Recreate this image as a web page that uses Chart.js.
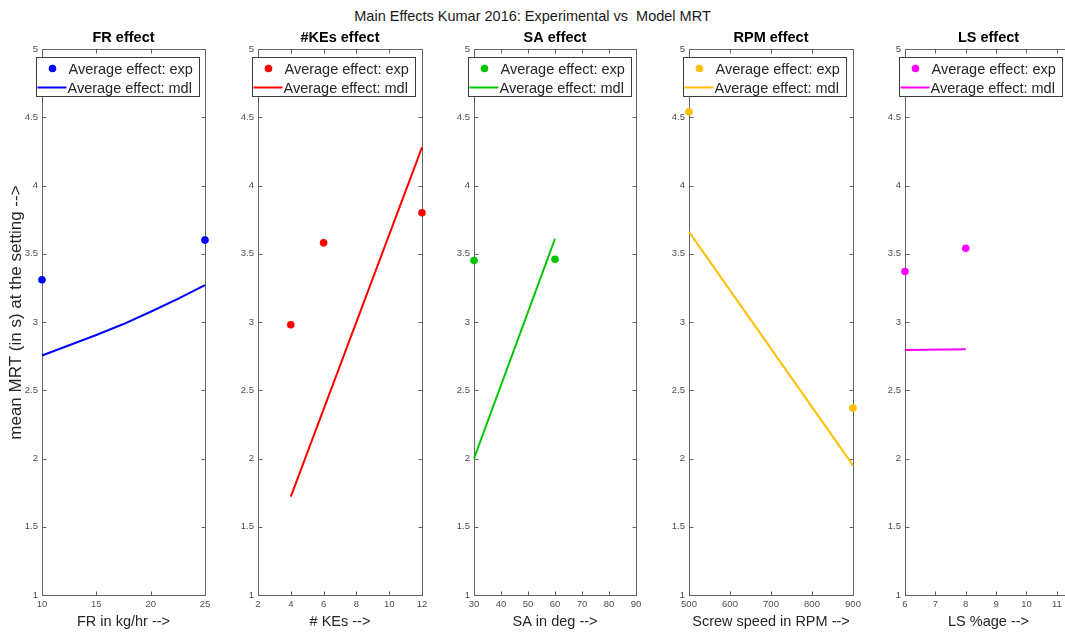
<!DOCTYPE html>
<html>
<head>
<meta charset="utf-8">
<script src="https://cdn.jsdelivr.net/npm/chart.js@4.4.1/dist/chart.umd.min.js"></script>
<style>
  html, body { margin: 0; padding: 0; background: #fff; overflow: hidden; }
  body { width: 1065px; height: 633px; position: relative; font-family: 'Liberation Sans', Arial, sans-serif; }
  #titulo { position: absolute; left: 0; top: 7px; width: 1065px; text-align: center; font-size: 14.5px; line-height: 18px; color: #1a1a1a; white-space: pre; }
  canvas { position: absolute; top: 0; }
</style>
</head>
<body>
<div id="titulo">Main Effects Kumar 2016: Experimental vs  Model MRT</div>
<canvas id="c0"></canvas>
<canvas id="c1"></canvas>
<canvas id="c2"></canvas>
<canvas id="c3"></canvas>
<canvas id="c4"></canvas>
<script>
// Promedios por nivel de cada factor (experimental) y curva del modelo
const frLevels = [10, 25];
const frExp = [3.31, 3.60];
const frModelX = [10, 12.5, 15, 17.5, 20, 22.5, 25];
const frModel = [2.755, 2.83, 2.905, 2.985, 3.075, 3.17, 3.27];

const keLevels = [4, 6, 12];
const keExp = [2.98, 3.58, 3.80];
const keModelX = [4, 12];
const keModel = [1.72, 4.28];

const saLevels = [30, 60];
const saExp = [3.45, 3.46];
const saModelX = [30, 60];
const saModel = [2.00, 3.61];

const rpmLevels = [500, 900];
const rpmExp = [4.54, 2.37];
const rpmModelX = [500, 900];
const rpmModel = [3.66, 1.95];

const lsLevels = [6, 8];
const lsExp = [3.37, 3.54];
const lsModelX = [6, 8];
const lsModel = [2.795, 2.80];

// Marcas de los ejes
const frTicks = [10, 15, 20, 25];
const keTicks = [2, 4, 6, 8, 10, 12];
const saTicks = [30, 40, 50, 60, 70, 80, 90];
const rpmTicks = [500, 600, 700, 800, 900];
const lsTicks = [6, 7, 8, 9, 10, 11];
const yTicks = [1, 1.5, 2, 2.5, 3, 3.5, 4, 4.5, 5];

const panelTitles = ['FR effect', '#KEs effect', 'SA effect', 'RPM effect', 'LS effect'];
const xTitles = ['FR in kg/hr -->', '# KEs -->', 'SA in deg -->', 'Screw speed in RPM -->', 'LS %age -->'];
const yTitle = 'mean MRT (in s) at the setting -->';
const legendLabels = ['Average effect: exp', 'Average effect: mdl'];
const colores = ['#0000ff', '#ff0000', '#00c400', '#ffbf00', '#ff00ff'];

document.addEventListener('DOMContentLoaded', () => {
  Chart.defaults.font.family = '"Liberation Sans", Arial, sans-serif';

  const paneles = [
    { lv: frLevels, exp: frExp, mx: frModelX, mdl: frModel, ticks: frTicks, min: 10, max: 25 },
    { lv: keLevels, exp: keExp, mx: keModelX, mdl: keModel, ticks: keTicks, min: 2, max: 12 },
    { lv: saLevels, exp: saExp, mx: saModelX, mdl: saModel, ticks: saTicks, min: 30, max: 90 },
    { lv: rpmLevels, exp: rpmExp, mx: rpmModelX, mdl: rpmModel, ticks: rpmTicks, min: 500, max: 900 },
    { lv: lsLevels, exp: lsExp, mx: lsModelX, mdl: lsModel, ticks: lsTicks, min: 6, max: 11.5 }
  ];

  // Posición horizontal de cada área de trazado
  const plotLefts = [42, 258, 474, 689, 905];
  const plotWidths = [163, 164, 162, 164, 167];
  const margen = 42; // mismo margen a ambos lados para centrar el título

  // Marco del eje con marcas hacia dentro en los cuatro lados
  const marcoEjes = {
    id: 'marcoEjes',
    beforeDatasetsDraw(chart) {
      const { ctx, chartArea: a, scales } = chart;
      const l = Math.round(a.left) + 0.5, r = Math.round(a.right) + 0.5;
      const t = Math.round(a.top) + 0.5, b = Math.round(a.bottom) + 0.5;
      ctx.save();
      ctx.strokeStyle = '#646464';
      ctx.lineWidth = 1;
      ctx.strokeRect(l, t, r - l, b - t);
      ctx.beginPath();
      scales.x.ticks.forEach(tk => {
        const px = Math.round(scales.x.getPixelForValue(tk.value)) + 0.5;
        ctx.moveTo(px, b); ctx.lineTo(px, b - 4);
        ctx.moveTo(px, t); ctx.lineTo(px, t + 4);
      });
      scales.y.ticks.forEach(tk => {
        const py = Math.round(scales.y.getPixelForValue(tk.value)) + 0.5;
        ctx.moveTo(l, py); ctx.lineTo(l + 4, py);
        ctx.moveTo(r, py); ctx.lineTo(r - 4, py);
      });
      ctx.stroke();
      ctx.restore();
    }
  };

  // Leyenda dentro del eje, arriba a la izquierda
  const leyendaCaja = {
    id: 'leyendaCaja',
    afterDraw(chart, args, opts) {
      const { ctx, chartArea: a } = chart;
      const x0 = Math.round(a.left) - 6 + 0.5;
      const y0 = Math.round(a.top) + 8 + 0.5;
      ctx.save();
      ctx.fillStyle = '#fff';
      ctx.fillRect(x0, y0, 163, 39);
      ctx.strokeStyle = '#3c3c3c';
      ctx.lineWidth = 1;
      ctx.strokeRect(x0, y0, 163, 39);
      ctx.fillStyle = opts.color;
      ctx.beginPath();
      ctx.arc(x0 + 16, y0 + 11, 3.8, 0, 2 * Math.PI);
      ctx.fill();
      ctx.strokeStyle = opts.color;
      ctx.lineWidth = 2;
      ctx.beginPath();
      ctx.moveTo(x0 + 1, y0 + 30);
      ctx.lineTo(x0 + 30, y0 + 30);
      ctx.stroke();
      ctx.fillStyle = '#262626';
      ctx.font = '14.5px "Liberation Sans", Arial, sans-serif';
      ctx.textAlign = 'left';
      ctx.textBaseline = 'middle';
      ctx.fillText(legendLabels[0], x0 + 32, y0 + 12);
      ctx.fillText(legendLabels[1], x0 + 31, y0 + 31);
      ctx.restore();
    }
  };

  paneles.forEach((p, i) => {
    const canvas = document.getElementById('c' + i);
    canvas.width = margen + plotWidths[i] + margen;
    canvas.height = 633;
    canvas.style.left = (plotLefts[i] - margen) + 'px';

    const puntos = p.lv.map((x, k) => ({ x: x, y: p.exp[k] }));
    const modelo = p.mx.map((x, k) => ({ x: x, y: p.mdl[k] }));

    new Chart(canvas, {
      type: 'scatter',
      data: {
        datasets: [
          {
            label: legendLabels[0],
            data: puntos,
            pointRadius: 3.8,
            pointBorderWidth: 0,
            pointBackgroundColor: colores[i],
            clip: false
          },
          {
            label: legendLabels[1],
            data: modelo,
            showLine: true,
            borderColor: colores[i],
            borderWidth: 2,
            pointRadius: 0,
            fill: false,
            clip: false
          }
        ]
      },
      options: {
        responsive: false,
        animation: false,
        events: [],
        layout: { padding: 0 },
        scales: {
          x: {
            type: 'linear',
            min: p.min,
            max: p.max,
            grid: { display: false, drawTicks: false },
            border: { display: false },
            afterBuildTicks: s => { s.ticks = p.ticks.map(v => ({ value: v })); },
            afterFit: s => { s.height = 38; },
            ticks: {
              padding: 4,
              color: '#4d4d4d',
              font: { size: 9.5 },
              maxRotation: 0,
              autoSkip: false,
              callback: v => String(v)
            },
            title: {
              display: true,
              text: xTitles[i],
              color: '#262626',
              font: { size: 14.5 },
              padding: { top: 0, bottom: 2.3 }
            }
          },
          y: {
            type: 'linear',
            min: 1,
            max: 5,
            grid: { display: false, drawTicks: false },
            border: { display: false },
            afterBuildTicks: s => { s.ticks = yTicks.map(v => ({ value: v })); },
            afterFit: s => { s.width = margen; },
            ticks: {
              padding: 4,
              color: '#4d4d4d',
              font: { size: 9.5 },
              autoSkip: false,
              callback: v => String(v)
            },
            title: {
              display: i === 0,
              // los espacios iniciales suben un poco la etiqueta
              text: '    ' + yTitle,
              color: '#262626',
              font: { size: 17 },
              padding: { top: 6, bottom: 0 }
            }
          },
          // eje derecho vacío: reserva el mismo margen que el izquierdo
          yDer: {
            type: 'linear',
            position: 'right',
            min: 1,
            max: 5,
            grid: { display: false, drawTicks: false },
            border: { display: false },
            ticks: { display: false },
            afterFit: s => { s.width = margen; }
          }
        },
        plugins: {
          legend: { display: false },
          tooltip: { enabled: false },
          title: {
            display: true,
            text: panelTitles[i],
            color: '#000',
            font: { size: 14.5, weight: 'bold' },
            padding: { top: 29.3, bottom: 2.3 }
          },
          leyendaCaja: { color: colores[i] }
        }
      },
      plugins: [marcoEjes, leyendaCaja]
    });
  });
});
</script>
</body>
</html>
